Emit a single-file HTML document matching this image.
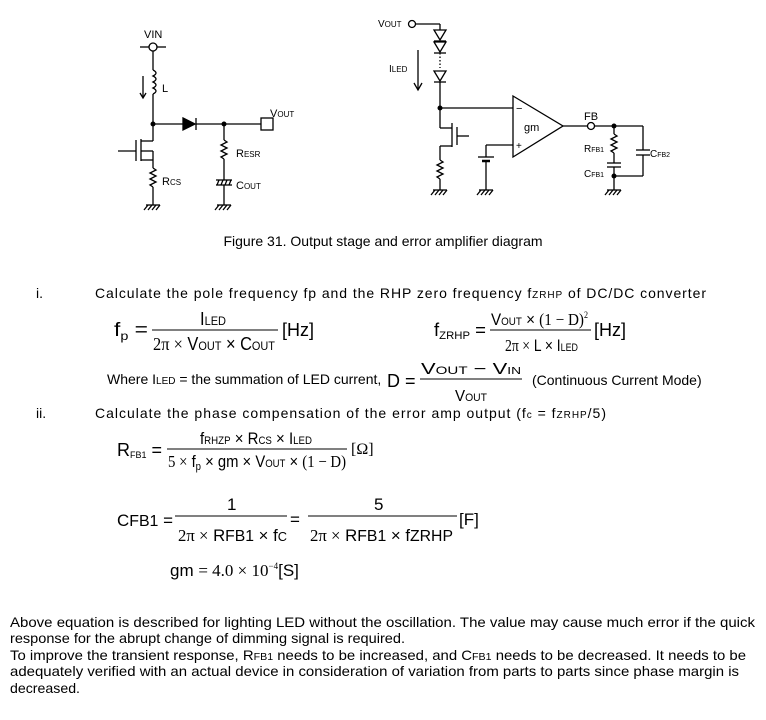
<!DOCTYPE html>
<html><head><meta charset="utf-8"><style>
html,body{margin:0;padding:0;background:#fff;}
svg{display:block;}
text{font-family:"Liberation Sans",Arial,sans-serif;fill:#000;}
.m{font-family:"Liberation Serif",serif;}
</style></head><body>
<svg width="766" height="720" viewBox="0 0 766 720" xmlns="http://www.w3.org/2000/svg">
<g stroke="#000" stroke-width="1.3" fill="none">
<line x1="140" y1="47" x2="149" y2="47"/><line x1="157" y1="47" x2="166" y2="47"/>
<circle cx="153" cy="47" r="4"/>
<line x1="153" y1="51" x2="153" y2="70"/>
<path d="M153 70 q6 3 0 6 q6 3 0 6 q6 3 0 6 q6 3 0 6"/>
<line x1="153" y1="94" x2="153" y2="124"/>
<line x1="143" y1="76" x2="143" y2="97"/>
<path d="M140 93 L143 98 L146 93"/>
<line x1="153" y1="124" x2="183" y2="124"/>
<path d="M183 118 L195 124 L183 130 Z" fill="#000"/>
<line x1="196" y1="118" x2="196" y2="130"/>
<line x1="196" y1="124" x2="261" y2="124"/>
<rect x="261" y="118" width="12" height="12"/>
<line x1="153" y1="124" x2="153" y2="141"/>
<line x1="141" y1="141" x2="153" y2="141"/>
<line x1="141" y1="139" x2="141" y2="161"/>
<line x1="136" y1="140" x2="136" y2="161"/>
<line x1="118" y1="151" x2="136" y2="151"/>
<line x1="141" y1="151" x2="153" y2="151"/>
<line x1="141" y1="160" x2="153" y2="160"/>
<line x1="153" y1="151" x2="153" y2="168"/>
<path d="M153 168 l3 2 l-6 3 l6 3 l-6 3 l6 3 l-6 3 l3 2"/>
<line x1="153" y1="187" x2="153" y2="205"/>
<line x1="146" y1="205" x2="160" y2="205"/>
<path d="M148 205 l-4 5 M152 205 l-4 5 M156 205 l-4 5 M160 205 l-4 5"/>
<line x1="224" y1="124" x2="224" y2="140"/>
<path d="M224 140 l3 2 l-6 3 l6 3 l-6 3 l6 3 l-6 3 l3 2"/>
<line x1="224" y1="159" x2="224" y2="180"/>
<line x1="216" y1="180" x2="232" y2="180"/>
<line x1="216" y1="185" x2="232" y2="185"/>
<path d="M219 180 l-2 5 M223 180 l-2 5 M227 180 l-2 5 M231 180 l-2 5"/>
<line x1="224" y1="185" x2="224" y2="205"/>
<line x1="217" y1="205" x2="231" y2="205"/>
<path d="M219 205 l-4 5 M223 205 l-4 5 M227 205 l-4 5 M231 205 l-4 5"/>
<circle cx="412" cy="24" r="3.5"/>
<line x1="416" y1="24" x2="440" y2="24"/>
<line x1="440" y1="24" x2="440" y2="30"/>
<path d="M434 30 L446 30 L440 40 Z"/><line x1="434" y1="41" x2="446" y2="41"/>
<path d="M434 42 L446 42 L440 52 Z"/><line x1="434" y1="53" x2="446" y2="53"/>
<line x1="440" y1="53" x2="440" y2="68" stroke-dasharray="1.5,2"/>
<path d="M434 71 L446 71 L440 81 Z"/><line x1="434" y1="82" x2="446" y2="82"/>
<line x1="440" y1="82" x2="440" y2="128"/>
<line x1="418" y1="50" x2="418" y2="90"/>
<path d="M414 83 L418 90 L422 83"/>
<line x1="440" y1="108" x2="513" y2="108"/>
<line x1="440" y1="128" x2="452" y2="128"/>
<line x1="452" y1="123" x2="452" y2="147"/>
<line x1="457" y1="127" x2="457" y2="145"/>
<line x1="457" y1="136" x2="469" y2="136"/>
<line x1="440" y1="146" x2="452" y2="146"/>
<line x1="440" y1="146" x2="440" y2="160"/>
<path d="M440 160 l3 2 l-6 3 l6 3 l-6 3 l6 3 l-6 3 l3 2"/>
<line x1="440" y1="179" x2="440" y2="190"/>
<line x1="433" y1="190" x2="447" y2="190"/>
<path d="M435 190 l-4 5 M439 190 l-4 5 M443 190 l-4 5 M447 190 l-4 5"/>
<line x1="486" y1="145" x2="513" y2="145"/>
<line x1="486" y1="145" x2="486" y2="157"/>
<line x1="478" y1="157" x2="494" y2="157"/>
<line x1="482" y1="161" x2="490" y2="161" stroke-width="2.5"/>
<line x1="486" y1="161" x2="486" y2="190"/>
<line x1="479" y1="190" x2="493" y2="190"/>
<path d="M481 190 l-4 5 M485 190 l-4 5 M489 190 l-4 5 M493 190 l-4 5"/>
<path d="M513 96 L563 126 L513 157 Z"/>
<line x1="563" y1="126" x2="587" y2="126"/>
<circle cx="591" cy="126" r="3.5"/>
<line x1="595" y1="126" x2="643" y2="126"/>
<line x1="643" y1="126" x2="643" y2="150"/>
<line x1="636" y1="150" x2="650" y2="150"/>
<line x1="636" y1="155" x2="650" y2="155"/>
<line x1="643" y1="155" x2="643" y2="176"/>
<line x1="614" y1="176" x2="643" y2="176"/>
<line x1="614" y1="126" x2="614" y2="134"/>
<path d="M614 134 l3 2 l-6 3 l6 3 l-6 3 l6 3 l-6 3 l3 2"/>
<line x1="614" y1="153" x2="614" y2="163"/>
<line x1="607" y1="163" x2="621" y2="163"/>
<line x1="607" y1="167" x2="621" y2="167"/>
<line x1="614" y1="167" x2="614" y2="190"/>
<line x1="607" y1="190" x2="621" y2="190"/>
<path d="M609 190 l-4 5 M613 190 l-4 5 M617 190 l-4 5 M621 190 l-4 5"/>
<line x1="152" y1="330" x2="278" y2="330" stroke-width="1"/>
<line x1="490" y1="330" x2="591" y2="330" stroke-width="1"/>
<line x1="420" y1="379" x2="522" y2="379" stroke-width="1"/>
<line x1="167" y1="449" x2="347" y2="449" stroke-width="1"/>
<line x1="175" y1="516" x2="287" y2="516" stroke-width="1"/>
<line x1="308" y1="516" x2="457" y2="516" stroke-width="1"/>
</g>
<g fill="#000" stroke="none">
<circle cx="153" cy="124" r="2.5"/><circle cx="224" cy="124" r="2.5"/>
<circle cx="440" cy="108" r="2.5"/><circle cx="614" cy="126" r="2.5"/><circle cx="614" cy="176" r="2.5"/>
</g>
<text x="144" y="38" font-size="11">VIN</text>
<text x="162" y="92" font-size="11">L</text>
<text x="270" y="117" font-size="11">V<tspan font-size="8">OUT</tspan></text>
<text x="162" y="185" font-size="11">R<tspan font-size="8">CS</tspan></text>
<text x="236" y="157" font-size="11">R<tspan font-size="8">ESR</tspan></text>
<text x="236" y="189" font-size="11">C<tspan font-size="8">OUT</tspan></text>
<text x="378" y="27" font-size="10">V<tspan font-size="8">OUT</tspan></text>
<text x="389" y="72" font-size="10">I<tspan font-size="8">LED</tspan></text>
<text x="524" y="131" font-size="11">gm</text>
<text x="516" y="112" font-size="11">−</text>
<text x="516" y="149" font-size="10">+</text>
<text x="584" y="120" font-size="11">FB</text>
<text x="584" y="152" font-size="10">R<tspan font-size="7">FB1</tspan></text>
<text x="584" y="177" font-size="10">C<tspan font-size="7">FB1</tspan></text>
<text x="650" y="157" font-size="10">C<tspan font-size="7">FB2</tspan></text>
<text x="383" y="246" font-size="14" text-anchor="middle">Figure 31. Output stage and error amplifier diagram</text>
<text x="36" y="298" font-size="14">i.</text>
<text x="95" y="298" font-size="14" textLength="611" lengthAdjust="spacing">Calculate the pole frequency fp and the RHP zero frequency f<tspan font-size="10">ZRHP</tspan> of DC/DC converter</text>
<text x="114" y="336" font-size="19" textLength="34" lengthAdjust="spacingAndGlyphs">f<tspan font-size="12" dy="4">p</tspan><tspan dy="-4"> =</tspan></text>
<text x="200" y="325" font-size="18" textLength="26" lengthAdjust="spacingAndGlyphs">I<tspan font-size="12">LED</tspan></text>
<text x="153" y="350" font-size="18" textLength="122" lengthAdjust="spacingAndGlyphs"><tspan class="m">2π ×</tspan> V<tspan font-size="12">OUT</tspan> × C<tspan font-size="12">OUT</tspan></text>
<text x="282" y="336" font-size="18">[Hz]</text>
<text x="434" y="336" font-size="18" textLength="52" lengthAdjust="spacingAndGlyphs">f<tspan font-size="11" dy="3">ZRHP</tspan><tspan dy="-3"> =</tspan></text>
<text x="491" y="325" font-size="17" textLength="97" lengthAdjust="spacingAndGlyphs">V<tspan font-size="11">OUT</tspan> × <tspan class="m">(1 − D)</tspan><tspan font-size="9" dy="-7" class="m">2</tspan></text>
<text x="505" y="351" font-size="17" textLength="73" lengthAdjust="spacingAndGlyphs"><tspan class="m">2π ×</tspan> L × I<tspan font-size="11">LED</tspan></text>
<text x="594" y="336" font-size="18">[Hz]</text>
<text x="107" y="384" font-size="14">Where I<tspan font-size="10">LED</tspan> = the summation of LED current,</text>
<text x="387" y="387" font-size="18">D =</text>
<text x="421" y="374" font-size="16" textLength="100" lengthAdjust="spacingAndGlyphs">V<tspan font-size="11">OUT</tspan> − V<tspan font-size="10">IN</tspan></text>
<text x="455" y="401" font-size="16" textLength="32" lengthAdjust="spacingAndGlyphs">V<tspan font-size="11">OUT</tspan></text>
<text x="532" y="385" font-size="14">(Continuous Current Mode)</text>
<text x="36" y="418" font-size="14">ii.</text>
<text x="95" y="418" font-size="14" textLength="511" lengthAdjust="spacing">Calculate the phase compensation of the error amp output (f<tspan font-size="10">c</tspan> = f<tspan font-size="10">ZRHP</tspan>/5)</text>
<text x="117" y="456" font-size="18" textLength="45" lengthAdjust="spacingAndGlyphs">R<tspan font-size="9" dy="2">FB1</tspan><tspan dy="-2"> =</tspan></text>
<text x="200" y="444" font-size="17" textLength="112" lengthAdjust="spacingAndGlyphs">f<tspan font-size="11">RHZP</tspan> × R<tspan font-size="11">CS</tspan> × I<tspan font-size="11">LED</tspan></text>
<text x="168" y="467" font-size="17" textLength="178" lengthAdjust="spacingAndGlyphs"><tspan class="m">5 ×</tspan> f<tspan font-size="11" dy="3">p</tspan><tspan dy="-3"> × gm × V</tspan><tspan font-size="11">OUT</tspan> × <tspan class="m">(1 − D)</tspan></text>
<text x="351" y="454" font-size="16" class="m">[Ω]</text>
<text x="117" y="526" font-size="17" textLength="56" lengthAdjust="spacingAndGlyphs">C<tspan font-size="16">FB1</tspan> =</text>
<text x="227" y="510" font-size="17">1</text>
<text x="178" y="541" font-size="17" textLength="109" lengthAdjust="spacingAndGlyphs"><tspan class="m">2π ×</tspan> R<tspan font-size="16">FB1</tspan> × f<tspan font-size="13">C</tspan></text>
<text x="290" y="525" font-size="17">=</text>
<text x="374" y="510" font-size="17">5</text>
<text x="310" y="541" font-size="17" textLength="143" lengthAdjust="spacingAndGlyphs"><tspan class="m">2π ×</tspan> R<tspan font-size="16">FB1</tspan> × f<tspan font-size="16">ZRHP</tspan></text>
<text x="459" y="525" font-size="17">[F]</text>
<text x="170" y="576" font-size="17">gm <tspan class="m">= 4.0 × 10</tspan><tspan font-size="9" dy="-7" class="m">−4</tspan><tspan dy="7">[S]</tspan></text>
<text x="10" y="627" font-size="14" textLength="745" lengthAdjust="spacingAndGlyphs">Above equation is described for lighting LED without the oscillation. The value may cause much error if the quick</text>
<text x="10" y="643" font-size="14" textLength="395" lengthAdjust="spacingAndGlyphs">response for the abrupt change of dimming signal is required.</text>
<text x="10" y="660" font-size="14" textLength="736" lengthAdjust="spacingAndGlyphs">To improve the transient response, R<tspan font-size="10">FB1</tspan> needs to be increased, and C<tspan font-size="10">FB1</tspan> needs to be decreased. It needs to be</text>
<text x="10" y="676" font-size="14" textLength="729" lengthAdjust="spacingAndGlyphs">adequately verified with an actual device in consideration of variation from parts to parts since phase margin is</text>
<text x="10" y="693" font-size="14" textLength="70" lengthAdjust="spacingAndGlyphs">decreased.</text>
</svg>
</body></html>
